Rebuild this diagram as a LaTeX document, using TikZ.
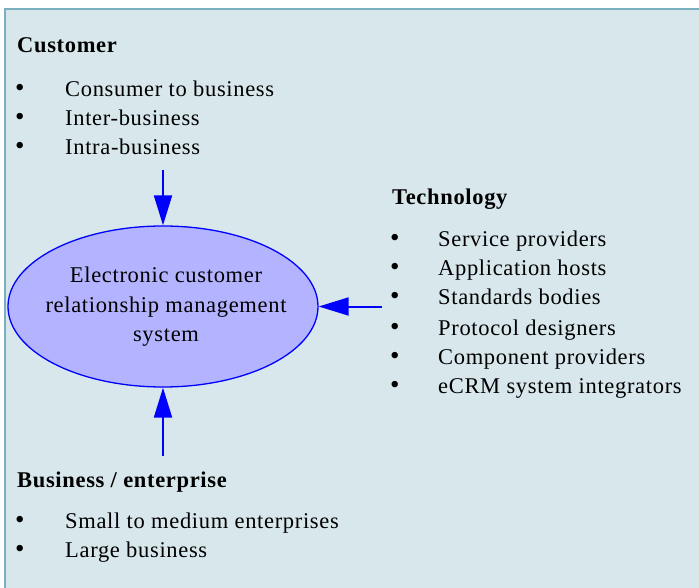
\documentclass[tikz,border=0pt]{standalone}
\usepackage{fontspec}
\setmainfont{Liberation Serif}[LetterSpace=3]
\usetikzlibrary{shapes.geometric,arrows.meta}
\definecolor{panelfill}{HTML}{D8E7EC}
\definecolor{panelline}{HTML}{7AAFC0}
\definecolor{ellfill}{HTML}{B3B3FF}
\definecolor{arrowblue}{HTML}{0000FF}
\tikzset{
  body/.style={font=\fontsize{22.5}{29.3}\selectfont, inner sep=0pt, anchor=base west},
  head/.style={body, font=\fontsize{22.5}{29.3}\selectfont\bfseries},
  dot/.style={body, font=\fontsize{27}{29.3}\selectfont},
  feed/.style={draw=arrowblue, line width=2pt, -{Triangle[length=30pt,width=18pt]}},
  hub/.style={ellipse, draw=arrowblue, line width=1.3pt, fill=ellfill,
    minimum width=310pt, minimum height=161pt, inner sep=0pt},
  hubtext/.style={align=center, inner sep=0pt, font=\fontsize{22.5}{29.6}\selectfont}
}
\begin{document}
\begin{tikzpicture}[x=1pt,y=-1pt]
\useasboundingbox (0,0) rectangle (699,588);
% panel
\fill[panelfill] (5,9) rectangle (720,600);
\draw[panelline, line width=2pt] (5,610) -- (5,9) -- (720,9);

% central system
\node[hub] (ecrm) at (163,306.5) {};
\node[hubtext] (ecrmtext) at (166,307) {Electronic customer\\relationship management\\system};

% customer group
\node[head] (cust) at (17,53) {Customer};
\node[dot] (cb1) at (15,97) {•};
\node[body] (c1) at (65,97) {Consumer to business};
\node[dot] (cb2) at (15,126) {•};
\node[body] (c2) at (65,126) {Inter-business};
\node[dot] (cb3) at (15,155) {•};
\node[body] (c3) at (65,155) {Intra-business};

% technology group
\node[head] (tech) at (392,205) {Technology};
\node[dot] (tb1) at (390,247) {•};
\node[body] (t1) at (438,247) {Service providers};
\node[dot] (tb2) at (390,276) {•};
\node[body] (t2) at (438,276) {Application hosts};
\node[dot] (tb3) at (390,305) {•};
\node[body] (t3) at (438,305) {Standards bodies};
\node[dot] (tb4) at (390,335) {•};
\node[body] (t4) at (438,335) {Protocol designers};
\node[dot] (tb5) at (390,364) {•};
\node[body] (t5) at (438,364) {Component providers};
\node[dot] (tb6) at (390,393) {•};
\node[body] (t6) at (438,393) {eCRM system integrators};

% business group
\node[head] (biz) at (17,487) {Business / enterprise};
\node[dot] (bb1) at (15,528) {•};
\node[body] (b1) at (65,528) {Small to medium enterprises};
\node[dot] (bb2) at (15,557) {•};
\node[body] (b2) at (65,557) {Large business};

% arrows into the system
\coordinate (topsrc) at (163,170);
\coordinate (rightsrc) at (382,306.5);
\coordinate (botsrc) at (163,456);
\draw[feed] (topsrc) -- (ecrm.north);
\draw[feed] (rightsrc) -- (ecrm.east);
\draw[feed] (botsrc) -- (ecrm.south);
\end{tikzpicture}
\end{document}
